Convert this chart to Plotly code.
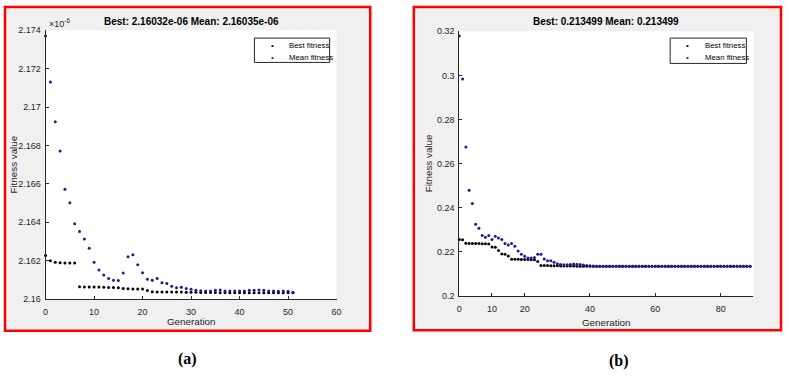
import plotly.graph_objects as go

# ---------------- data ----------------
# Panel (a): fitness values in units of 1e-6
a_best = [2.16227, 2.16199, 2.16191, 2.16189, 2.16188, 2.16188, 2.16187, 2.16064,
          2.16063, 2.16062, 2.16062, 2.16062, 2.16061, 2.16060, 2.16060, 2.16058,
          2.16055, 2.16053, 2.16052, 2.16052, 2.16052, 2.16044, 2.16038, 2.16037,
          2.16037, 2.16037, 2.16036, 2.16036, 2.16036, 2.16035, 2.16035, 2.16035,
          2.16034, 2.16034, 2.16034, 2.16034, 2.16033, 2.16033, 2.16033, 2.16033,
          2.16033, 2.16033, 2.16033, 2.16032, 2.16032, 2.16032, 2.16032, 2.16032,
          2.16032, 2.16032, 2.16032, 2.16032]
a_mean = [2.17370, 2.17131, 2.16923, 2.16771, 2.16572, 2.16502, 2.16392, 2.16352,
          2.16313, 2.16264, 2.16191, 2.16151, 2.16125, 2.16107, 2.16098, 2.16096,
          2.16135, 2.16220, 2.16230, 2.16178, 2.16137, 2.16103, 2.16097, 2.16107,
          2.16085, 2.16081, 2.16067, 2.16058, 2.16061, 2.16055, 2.16051, 2.16046,
          2.16043, 2.16042, 2.16042, 2.16046, 2.16047, 2.16042, 2.16041, 2.16041,
          2.16041, 2.16042, 2.16046, 2.16046, 2.16047, 2.16045, 2.16042, 2.16041,
          2.16040, 2.16041, 2.16040, 2.16035]
a_gen = list(range(len(a_best)))

# Panel (b)
b_best = [0.2256, 0.2255, 0.2239, 0.2238, 0.2238, 0.2238, 0.2238, 0.2237, 0.2237, 0.2236,
          0.2222, 0.2221, 0.2206, 0.2191, 0.2190, 0.2182, 0.2167, 0.2167, 0.2167, 0.2166,
          0.2166, 0.2166, 0.2165, 0.2165, 0.2157, 0.2138, 0.2138, 0.2138, 0.2137, 0.2137,
          0.2137, 0.2136, 0.2136, 0.2136, 0.2136, 0.2136, 0.2135, 0.2135, 0.2135, 0.2135,
          0.2135, 0.2135, 0.2135, 0.2135, 0.2135, 0.2135, 0.2135, 0.2135, 0.2135, 0.2135,
          0.2135, 0.2135, 0.2135, 0.2135, 0.2135, 0.2135, 0.2135, 0.2135, 0.2135, 0.2135,
          0.2135, 0.2135, 0.2135, 0.2135, 0.2135, 0.2135, 0.2135, 0.2135, 0.2135, 0.2135,
          0.2135, 0.2135, 0.2135, 0.2135, 0.2135, 0.2135, 0.2135, 0.2135, 0.2135, 0.2135,
          0.2135, 0.2135, 0.2135, 0.2135, 0.2135, 0.2135, 0.2135, 0.2135, 0.2135, 0.2135]
b_mean = [0.3179, 0.2984, 0.2676, 0.2479, 0.2420, 0.2326, 0.2307, 0.2275, 0.2266, 0.2275,
          0.2256, 0.2271, 0.2263, 0.2256, 0.2238, 0.2231, 0.2238, 0.2226, 0.2204, 0.2190,
          0.2180, 0.2172, 0.2172, 0.2175, 0.2190, 0.2190, 0.2168, 0.2160, 0.2160, 0.2153,
          0.2146, 0.2143, 0.2142, 0.2142, 0.2143, 0.2145, 0.2144, 0.2143, 0.2141, 0.2139,
          0.2137, 0.2136, 0.2135, 0.2135, 0.2135, 0.2135, 0.2135, 0.2135, 0.2135, 0.2135,
          0.2135, 0.2135, 0.2135, 0.2135, 0.2135, 0.2135, 0.2135, 0.2135, 0.2135, 0.2135,
          0.2135, 0.2135, 0.2135, 0.2135, 0.2135, 0.2135, 0.2135, 0.2135, 0.2135, 0.2135,
          0.2135, 0.2135, 0.2135, 0.2135, 0.2135, 0.2135, 0.2135, 0.2135, 0.2135, 0.2135,
          0.2135, 0.2135, 0.2135, 0.2135, 0.2135, 0.2135, 0.2135, 0.2135, 0.2135, 0.2135]
b_gen = list(range(len(b_best)))

a_title = "Best: 2.16032e-06 Mean: 2.16035e-06"
b_title = "Best: 0.213499 Mean: 0.213499"
a_yticks = [2.16, 2.162, 2.164, 2.166, 2.168, 2.17, 2.172, 2.174]
a_ytext = ["2.16", "2.162", "2.164", "2.166", "2.168", "2.17", "2.172", "2.174"]
a_xticks = [0, 10, 20, 30, 40, 50, 60]
b_yticks = [0.2, 0.22, 0.24, 0.26, 0.28, 0.3, 0.32]
b_ytext = ["0.2", "0.22", "0.24", "0.26", "0.28", "0.3", "0.32"]
b_xticks = [0, 10, 20, 40, 60, 80]
series_names = ["Best fitness", "Mean fitness"]

# ---------------- styling ----------------
W, H = 789, 377
FONT = "Liberation Sans, Arial, Helvetica, sans-serif"
AX = "#262626"
BEST_C = "#000000"
MEAN_C = "#1c1c8e"
GRAY = "#f0f0f0"


def px(x):
    return x / W


def py(y):
    return 1 - y / H


fig = go.Figure()

# panel (a)
fig.add_trace(go.Scatter(x=a_gen, y=a_best, mode="markers", name=series_names[0],
                         marker=dict(color=BEST_C, size=3), xaxis="x", yaxis="y",
                         cliponaxis=False, showlegend=False))
fig.add_trace(go.Scatter(x=a_gen, y=a_mean, mode="markers", name=series_names[1],
                         marker=dict(color=MEAN_C, size=3), xaxis="x", yaxis="y",
                         cliponaxis=False, showlegend=False))
# panel (b)
fig.add_trace(go.Scatter(x=b_gen, y=b_best, mode="markers", name=series_names[0],
                         marker=dict(color=BEST_C, size=3), xaxis="x2", yaxis="y2",
                         cliponaxis=False, showlegend=False))
fig.add_trace(go.Scatter(x=b_gen, y=b_mean, mode="markers", name=series_names[1],
                         marker=dict(color=MEAN_C, size=3), xaxis="x2", yaxis="y2",
                         cliponaxis=False, showlegend=False))

A_L, A_R, A_T, A_B = 43, 337, 26, 302
B_L, B_R, B_T, B_B = 461, 758, 27, 299

axis_common = dict(showline=True, linecolor=AX, linewidth=1, mirror=False,
                   ticks="inside", ticklen=3, tickwidth=1, tickcolor=AX,
                   showgrid=False, zeroline=False,
                   tickfont=dict(family=FONT, size=9, color=AX))

fig.update_layout(
    width=W, height=H,
    margin=dict(l=0, r=0, t=0, b=0),
    paper_bgcolor="white", plot_bgcolor="rgba(0,0,0,0)",
    showlegend=False,
    xaxis=dict(domain=[px(A_L), px(A_R)], range=[0, 60], tickvals=a_xticks,
               anchor="y", ticklabelstandoff=4, **axis_common),
    yaxis=dict(domain=[py(A_B), py(A_T)], range=[2.16, 2.174], tickvals=a_yticks,
               ticktext=a_ytext, anchor="x", ticklabelstandoff=2, **axis_common),
    xaxis2=dict(domain=[px(B_L), px(B_R)], range=[0, 90], tickvals=b_xticks,
                anchor="y2", ticklabelstandoff=4, **axis_common),
    yaxis2=dict(domain=[py(B_B), py(B_T)], range=[0.2, 0.32], tickvals=b_yticks,
                ticktext=b_ytext, anchor="x2", ticklabelstandoff=2, **axis_common),
)

shapes = []
# gray figure backgrounds with red frames
shapes.append(dict(type="rect", xref="paper", yref="paper", x0=px(2), x1=px(371),
                   y0=py(334.5), y1=py(2), fillcolor=GRAY,
                   line=dict(color="#ff0000", width=2.5), layer="below"))
shapes.append(dict(type="rect", xref="paper", yref="paper", x0=px(415), x1=px(786),
                   y0=py(334), y1=py(2), fillcolor=GRAY,
                   line=dict(color="#ff0000", width=2.5), layer="below"))
# white axes areas
shapes.append(dict(type="rect", xref="paper", yref="paper", x0=px(A_L), x1=px(A_R),
                   y0=py(A_B), y1=py(A_T), fillcolor="white", line=dict(width=0),
                   layer="below"))
shapes.append(dict(type="rect", xref="paper", yref="paper", x0=px(B_L), x1=px(B_R),
                   y0=py(B_B), y1=py(B_T), fillcolor="white", line=dict(width=0),
                   layer="below"))
# legend boxes
LEG = [(254, 330, 34, 59), (674, 751, 34, 60)]
for (l, r, t, b) in LEG:
    shapes.append(dict(type="rect", xref="paper", yref="paper", x0=px(l), x1=px(r),
                       y0=py(b), y1=py(t), fillcolor="white",
                       line=dict(color=AX, width=1)))
fig.update_layout(shapes=shapes)

ann = []


def text(x, y, s, size, bold=False, color=AX, xanchor="center", family=FONT,
         angle=0):
    ann.append(dict(xref="paper", yref="paper", x=px(x), y=py(y), text=s,
                    showarrow=False, xanchor=xanchor, yanchor="middle",
                    font=dict(family=family, size=size, color=color),
                    textangle=angle))


# titles
text((A_L + A_R) / 2, 16.5, "<b>" + a_title + "</b>", 10, color="#000000")
text((B_L + B_R) / 2, 17, "<b>" + b_title + "</b>", 10, color="#000000")
# exponent
text(44, 19, "×10<sup>-6</sup>", 9, xanchor="left")
# axis titles
text(190, 325, "Generation", 9.8)
text(609, 326, "Generation", 9.8)
text(11, 164, "Fitness value", 9.8, angle=-90)
text(430, 163, "Fitness value", 9.8, angle=-90)
# legend entries
for (l, r, t, b) in LEG:
    for i, (nm, c) in enumerate(zip(series_names, [BEST_C, MEAN_C])):
        yy = t + 8 + i * 12
        text(l + 18, yy, "•", 8, color=c)
        text(l + 33, yy, nm, 7.8, xanchor="left", color="#000000")
# captions
text(186, 364, "<b>(a)</b>", 16, color="#000000",
     family="Liberation Serif, Times New Roman, serif")
text(622, 366, "<b>(b)</b>", 16, color="#000000",
     family="Liberation Serif, Times New Roman, serif")

fig.update_layout(annotations=ann)

fig.write_html("out.html",
               config={"displayModeBar": False},
               post_script="document.body.style.margin='0px';"
                           "document.body.style.overflow='hidden';")
